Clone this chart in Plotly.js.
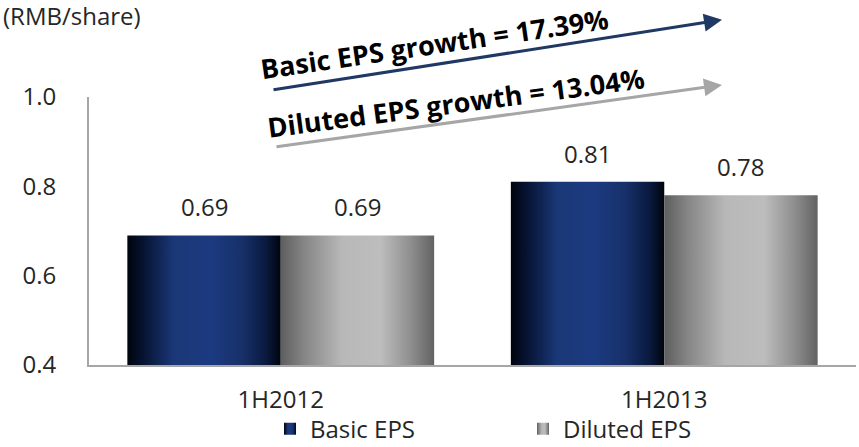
<!DOCTYPE html>
<html>
<head>
<meta charset="utf-8">
<script src="https://cdn.plot.ly/plotly-3.0.1.min.js"></script>
<style>
html,body{margin:0;padding:0;background:#fff;}
#chart{width:859px;height:447px;}
</style>
</head>
<body>
<div id="chart"></div>
<script>
// ---- data ----
var categories = ['1H2012', '1H2013'];
var seriesNames = ['Basic EPS', 'Diluted EPS'];
var basicEPS = [0.69, 0.81];
var dilutedEPS = [0.69, 0.78];
var yTickVals = [0.4, 0.6, 0.8, 1.0];
var unitLabel = '(RMB/share)';
var basicGrowthLabel = 'Basic EPS growth = 17.39%';
var dilutedGrowthLabel = 'Diluted EPS growth = 13.04%';

var FONT = '"Open Sans", "DejaVu Sans", sans-serif';
var TXT = '#262626';

var traces = [
  {type:'bar', name:seriesNames[0], x:categories, y:basicEPS, marker:{color:'#1c3a7e', line:{width:0}}, hoverinfo:'none'},
  {type:'bar', name:seriesNames[1], x:categories, y:dilutedEPS, marker:{color:'#a0a0a0', line:{width:0}}, hoverinfo:'none'}
];

var annotations = [];
var shift = 76.7;
[basicEPS, dilutedEPS].forEach(function(arr, si){
  arr.forEach(function(v, i){
    annotations.push({
      x: categories[i], y: v, xref:'x', yref:'y',
      text: v.toFixed(2), showarrow:false,
      xshift: si === 0 ? -shift : shift, yshift: 10,
      yanchor:'bottom', font:{family:FONT, size:24, color:TXT}
    });
  });
});

annotations.push({
  xref:'paper', yref:'paper', x:-0.1145, y:1.304, xanchor:'left', yanchor:'middle',
  text: unitLabel, showarrow:false, font:{family:FONT, size:24, color:TXT}
});

// arrows
annotations.push({
  xref:'paper', yref:'paper', axref:'paper', ayref:'paper',
  x:0.8253, y:1.288, ax:0.2386, ay:1.0261, text:'', showarrow:true,
  arrowhead:2, arrowsize:1.2, arrowwidth:3, arrowcolor:'#1f3864', standoff:0, startstandoff:0
});
annotations.push({
  xref:'paper', yref:'paper', axref:'paper', ayref:'paper',
  x:0.8253, y:1.045, ax:0.2425, ay:0.8134, text:'', showarrow:true,
  arrowhead:2, arrowsize:1.2, arrowwidth:3, arrowcolor:'#a6a6a6', standoff:0, startstandoff:0
});
annotations.push({
  xref:'paper', yref:'paper', x:0.451, y:1.199, xanchor:'center', yanchor:'middle',
  text: basicGrowthLabel, showarrow:false, textangle:-8.3,
  font:{family:FONT, size:27, color:'#000', weight:'bold'}
});
annotations.push({
  xref:'paper', yref:'paper', x:0.479, y:0.978, xanchor:'center', yanchor:'middle',
  text: dilutedGrowthLabel, showarrow:false, textangle:-7.5,
  font:{family:FONT, size:27, color:'#000', weight:'bold'}
});

var layout = {
  width:859, height:447,
  margin:{l:89, r:3, t:97, b:82, pad:0, autoexpand:false},
  paper_bgcolor:'#fff', plot_bgcolor:'#fff',
  barmode:'group', bargap:0.2, bargroupgap:0,
  showlegend:true,
  legend:{orientation:'h', x:0.236, xanchor:'left', y:-0.239, yanchor:'middle',
    font:{family:FONT, size:24, color:TXT}, entrywidth:208, entrywidthmode:'pixels',
    itemclick:false, itemdoubleclick:false, bgcolor:'rgba(0,0,0,0)'},
  xaxis:{type:'category', showgrid:false, zeroline:false, showline:true, linecolor:'#a6a6a6', linewidth:2,
    ticks:'', tickfont:{family:FONT, size:24, color:TXT}, ticklabelstandoff:12, fixedrange:true},
  yaxis:{range:[0.4, 1.0], tickvals:yTickVals, tickformat:'.1f', showgrid:false, zeroline:false,
    showline:true, linecolor:'#a6a6a6', linewidth:2, ticks:'',
    tickfont:{family:FONT, size:24, color:TXT}, ticklabelstandoff:26, fixedrange:true},
  annotations: annotations
};

function addGradient(defs, id, stops){
  var ns = 'http://www.w3.org/2000/svg';
  var g = document.createElementNS(ns, 'linearGradient');
  g.setAttribute('id', id);
  g.setAttribute('x1','0'); g.setAttribute('y1','0'); g.setAttribute('x2','1'); g.setAttribute('y2','0');
  stops.forEach(function(s){
    var st = document.createElementNS(ns, 'stop');
    st.setAttribute('offset', s[0]);
    st.setAttribute('stop-color', s[1]);
    g.appendChild(st);
  });
  defs.appendChild(g);
}

Plotly.newPlot('chart', traces, layout, {displayModeBar:false, staticPlot:true}).then(function(gd){
  var defs = gd.querySelector('.main-svg defs');
  addGradient(defs, 'gradBlue', [['0','#00040c'],['0.1','#061230'],['0.3','#1a3777'],['0.55','#1c3a80'],['0.75','#173069'],['0.9','#0a1a40'],['1','#00040c']]);
  addGradient(defs, 'gradGray', [['0','#5e5e5e'],['0.15','#858585'],['0.4','#b8b8b8'],['0.65','#bdbdbd'],['0.85','#8e8e8e'],['1','#626262']]);
  var ids = ['gradBlue','gradGray'];
  var bars = gd.querySelectorAll('.barlayer .trace');
  bars.forEach(function(t, i){
    t.querySelectorAll('path').forEach(function(p){ p.style.fill = 'url(#' + ids[i] + ')'; });
  });
  var leg = gd.querySelectorAll('.legend .traces');
  leg.forEach(function(t, i){
    t.querySelectorAll('.legendpoints path').forEach(function(p){ p.style.fill = 'url(#' + ids[i] + ')'; });
  });
});
</script>
</body>
</html>
